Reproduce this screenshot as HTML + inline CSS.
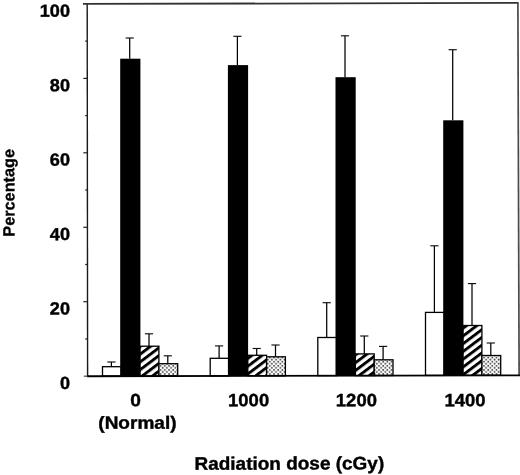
<!DOCTYPE html>
<html><head><meta charset="utf-8"><title>Radiation dose chart</title>
<style>
html,body{margin:0;padding:0;background:#fff;}
body{width:520px;height:475px;overflow:hidden;}
svg{display:block;}
text{text-rendering:geometricPrecision;font-family:"Liberation Sans",Arial,Helvetica,sans-serif;font-weight:bold;fill:#000;}
</style></head><body>
<svg width="520" height="475" viewBox="0 0 520 475">
<defs>
<pattern id="hatch" patternUnits="userSpaceOnUse" width="6.2" height="6.2" patternTransform="rotate(-37)">
<rect x="0" y="0" width="6.2" height="6.2" fill="#fff"/>
<rect x="0" y="0" width="6.2" height="2.9" fill="#000"/>
</pattern>
<pattern id="dots" patternUnits="userSpaceOnUse" width="4.2" height="4.1">
<rect x="0" y="0" width="4.2" height="4.1" fill="#fff"/>
<circle cx="1" cy="1" r="0.9" fill="#383838"/>
<circle cx="3.1" cy="3.05" r="0.9" fill="#383838"/>
</pattern>
</defs>
<rect x="0" y="0" width="520" height="475" fill="#fff"/>
<path d="M111.4 366.7V362.0" stroke="#000" stroke-width="1.25" fill="none"/>
<path d="M107.3 362.0H115.5" stroke="#111" stroke-width="1.15" fill="none"/>
<path d="M129.7 58.7V38.0" stroke="#000" stroke-width="1.25" fill="none"/>
<path d="M125.6 38.0H133.8" stroke="#111" stroke-width="1.15" fill="none"/>
<path d="M149.0 346.2V333.8" stroke="#000" stroke-width="1.25" fill="none"/>
<path d="M144.9 333.8H153.1" stroke="#111" stroke-width="1.15" fill="none"/>
<path d="M167.8 363.7V355.8" stroke="#000" stroke-width="1.25" fill="none"/>
<path d="M163.7 355.8H171.9" stroke="#111" stroke-width="1.15" fill="none"/>
<path d="M219.1 358.3V345.9" stroke="#000" stroke-width="1.25" fill="none"/>
<path d="M215.0 345.9H223.2" stroke="#111" stroke-width="1.15" fill="none"/>
<path d="M237.4 65.1V36.3" stroke="#000" stroke-width="1.25" fill="none"/>
<path d="M233.3 36.3H241.5" stroke="#111" stroke-width="1.15" fill="none"/>
<path d="M256.7 355.3V348.5" stroke="#000" stroke-width="1.25" fill="none"/>
<path d="M252.6 348.5H260.8" stroke="#111" stroke-width="1.15" fill="none"/>
<path d="M275.5 356.8V345.0" stroke="#000" stroke-width="1.25" fill="none"/>
<path d="M271.4 345.0H279.6" stroke="#111" stroke-width="1.15" fill="none"/>
<path d="M326.7 337.5V302.7" stroke="#000" stroke-width="1.25" fill="none"/>
<path d="M322.6 302.7H330.8" stroke="#111" stroke-width="1.15" fill="none"/>
<path d="M345.0 77.2V35.8" stroke="#000" stroke-width="1.25" fill="none"/>
<path d="M340.9 35.8H349.1" stroke="#111" stroke-width="1.15" fill="none"/>
<path d="M364.3 353.9V336.0" stroke="#000" stroke-width="1.25" fill="none"/>
<path d="M360.2 336.0H368.4" stroke="#111" stroke-width="1.15" fill="none"/>
<path d="M383.1 359.8V346.4" stroke="#000" stroke-width="1.25" fill="none"/>
<path d="M379.0 346.4H387.2" stroke="#111" stroke-width="1.15" fill="none"/>
<path d="M434.4 312.4V245.8" stroke="#000" stroke-width="1.25" fill="none"/>
<path d="M430.3 245.8H438.5" stroke="#111" stroke-width="1.15" fill="none"/>
<path d="M452.7 120.3V49.7" stroke="#000" stroke-width="1.25" fill="none"/>
<path d="M448.6 49.7H456.8" stroke="#111" stroke-width="1.15" fill="none"/>
<path d="M472.0 325.5V283.6" stroke="#000" stroke-width="1.25" fill="none"/>
<path d="M467.9 283.6H476.1" stroke="#111" stroke-width="1.15" fill="none"/>
<path d="M490.8 355.5V343.0" stroke="#000" stroke-width="1.25" fill="none"/>
<path d="M486.7 343.0H494.9" stroke="#111" stroke-width="1.15" fill="none"/>
<rect x="102.5" y="366.7" width="18.8" height="9.4" fill="#fff" stroke="#000" stroke-width="1.3"/>
<rect x="120.2" y="58.7" width="20.2" height="317.4" fill="#000"/>
<rect x="140.1" y="346.2" width="18.8" height="29.9" fill="url(#hatch)" stroke="#000" stroke-width="1.3"/>
<rect x="158.9" y="363.7" width="18.8" height="12.3" fill="url(#dots)" stroke="#000" stroke-width="1.3"/>
<rect x="210.2" y="358.3" width="18.8" height="17.6" fill="#fff" stroke="#000" stroke-width="1.3"/>
<rect x="227.9" y="65.1" width="20.2" height="310.7" fill="#000"/>
<rect x="247.8" y="355.3" width="18.8" height="20.5" fill="url(#hatch)" stroke="#000" stroke-width="1.3"/>
<rect x="266.6" y="356.8" width="18.8" height="19.0" fill="url(#dots)" stroke="#000" stroke-width="1.3"/>
<rect x="317.8" y="337.5" width="18.8" height="38.1" fill="#fff" stroke="#000" stroke-width="1.3"/>
<rect x="335.5" y="77.2" width="20.2" height="298.4" fill="#000"/>
<rect x="355.4" y="353.9" width="18.8" height="21.7" fill="url(#hatch)" stroke="#000" stroke-width="1.3"/>
<rect x="374.2" y="359.8" width="18.8" height="15.7" fill="url(#dots)" stroke="#000" stroke-width="1.3"/>
<rect x="425.5" y="312.4" width="18.8" height="63.0" fill="#fff" stroke="#000" stroke-width="1.3"/>
<rect x="443.2" y="120.3" width="20.2" height="255.0" fill="#000"/>
<rect x="463.1" y="325.5" width="18.8" height="49.8" fill="url(#hatch)" stroke="#000" stroke-width="1.3"/>
<rect x="481.9" y="355.5" width="18.8" height="19.8" fill="url(#dots)" stroke="#000" stroke-width="1.3"/>
<path d="M87.2 3.9L87.6 376.2" stroke="#1a1a1a" stroke-width="1.4" fill="none"/>
<path d="M83 3.9L518.6 2.95" stroke="#333" stroke-width="1.8" fill="none"/>
<path d="M517.9 2.9L519.1 375.2" stroke="#4a4a4a" stroke-width="1.7" fill="none"/>
<path d="M87 376.2L520 375.35" stroke="#000" stroke-width="1.9" fill="none"/>
<path d="M83.8 376.2H87.5" stroke="#555" stroke-width="1.3" fill="none"/>
<path d="M85.2 339.0H87.4" stroke="#222" stroke-width="1.2"/>
<path d="M83.3 301.7H87.4" stroke="#222" stroke-width="1.2"/>
<path d="M85.2 264.5H87.4" stroke="#222" stroke-width="1.2"/>
<path d="M83.3 227.3H87.4" stroke="#222" stroke-width="1.2"/>
<path d="M85.2 190.0H87.4" stroke="#222" stroke-width="1.2"/>
<path d="M83.3 152.8H87.4" stroke="#222" stroke-width="1.2"/>
<path d="M85.2 115.6H87.4" stroke="#222" stroke-width="1.2"/>
<path d="M83.3 78.4H87.4" stroke="#222" stroke-width="1.2"/>
<path d="M85.2 41.1H87.4" stroke="#222" stroke-width="1.2"/>
<text transform="translate(70.0,389.0) rotate(-0.13) scale(1.03,1)" font-size="17.6" text-anchor="end" stroke="#000" stroke-width="0.4">0</text>
<text transform="translate(70.0,314.5) rotate(-0.13) scale(1.03,1)" font-size="17.6" text-anchor="end" stroke="#000" stroke-width="0.4">20</text>
<text transform="translate(70.0,240.1) rotate(-0.13) scale(1.03,1)" font-size="17.6" text-anchor="end" stroke="#000" stroke-width="0.4">40</text>
<text transform="translate(70.0,165.6) rotate(-0.13) scale(1.03,1)" font-size="17.6" text-anchor="end" stroke="#000" stroke-width="0.4">60</text>
<text transform="translate(70.0,91.2) rotate(-0.13) scale(1.03,1)" font-size="17.6" text-anchor="end" stroke="#000" stroke-width="0.4">80</text>
<text transform="translate(70.0,16.7) rotate(-0.13) scale(1.03,1)" font-size="17.6" text-anchor="end" stroke="#000" stroke-width="0.4">100</text>
<text transform="translate(14.4,192.8) rotate(-90.13) scale(1.0,1)" font-size="16.3" text-anchor="middle" stroke="#000" stroke-width="0.3">Percentage</text>
<text transform="translate(135.6,406.3) rotate(-0.13) scale(1.08,1)" font-size="17.8" text-anchor="middle" stroke="#000" stroke-width="0.4">0</text>
<text transform="translate(137.4,428.8) rotate(-0.13) scale(1.07,1)" font-size="17.8" text-anchor="middle" stroke="#000" stroke-width="0.4">(Normal)</text>
<text transform="translate(248.6,406.3) rotate(-0.13) scale(1.04,1)" font-size="17.8" text-anchor="middle" stroke="#000" stroke-width="0.4">1000</text>
<text transform="translate(356.4,406.3) rotate(-0.13) scale(1.04,1)" font-size="17.8" text-anchor="middle" stroke="#000" stroke-width="0.4">1200</text>
<text transform="translate(465,406.3) rotate(-0.13) scale(1.04,1)" font-size="17.8" text-anchor="middle" stroke="#000" stroke-width="0.4">1400</text>
<text transform="translate(289.35,469.6) rotate(-0.13) scale(1.043,1)" font-size="18.2" text-anchor="middle" stroke="#000" stroke-width="0.4">Radiation dose (cGy)</text>
</svg>
</body></html>
